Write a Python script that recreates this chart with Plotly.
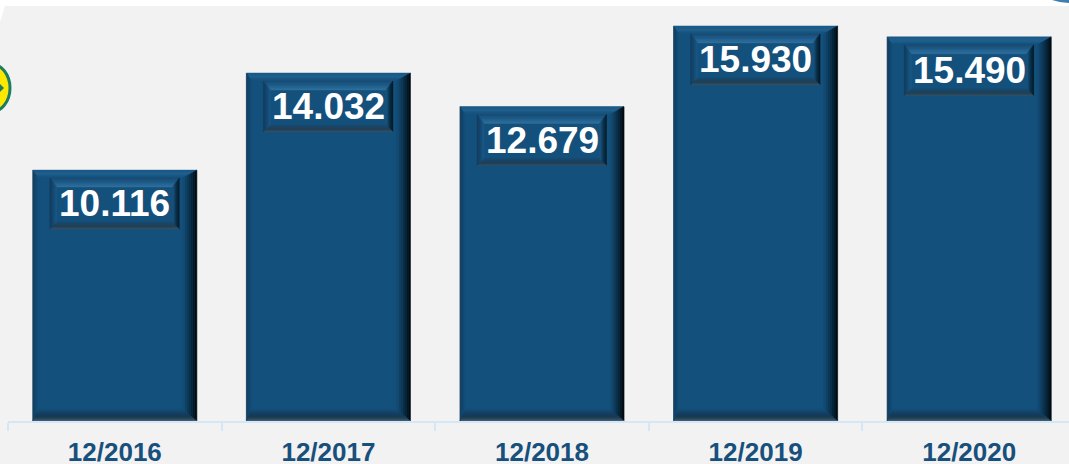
import plotly.graph_objects as go

categories = ["12/2016", "12/2017", "12/2018", "12/2019", "12/2020"]
values = [10116, 14032, 12679, 15930, 15490]
value_labels = ["10.116", "14.032", "12.679", "15.930", "15.490"]

W, H = 1069, 464
ML, MB = 8, 42.5
PLOT_H = H - MB
STEP = 213.6
YMAX = PLOT_H / 0.0248
BAR_HALF = 82
BAR_COLOR = "#14507c"
TEXT_COLOR = "#17507c"


def hex2rgb(c):
    return tuple(int(c[i:i + 2], 16) for i in (1, 3, 5))


def ramp(stops, f):
    # stops: list of (pos, colour)
    for (p0, c0), (p1, c1) in zip(stops, stops[1:]):
        if f <= p1:
            t = (f - p0) / (p1 - p0) if p1 > p0 else 0
            a, b = hex2rgb(c0), hex2rgb(c1)
            return "rgb(%d,%d,%d)" % tuple(round(a[i] + (b[i] - a[i]) * t) for i in range(3))
    return stops[-1][1]


def bevel(cat, x0, x1, y0, y1, insets, edge_stops, n=7):
    """Bevelled frame inside a pixel box anchored at category cat, value 0."""
    out = []
    il, it, ir, ib = insets
    for k in range(n):
        a, b = k / n, (k + 1) / n
        def rect(f):
            return x0 + il * f, x1 - ir * f, y1 - it * f, y0 + ib * f
        la, ra, ta, ba = rect(a)
        lb, rb, tb, bb = rect(b)
        quads = {
            "top": [(la, ta), (ra, ta), (rb, tb), (lb, tb)],
            "right": [(ra, ta), (ra, ba), (rb, bb), (rb, tb)],
            "bottom": [(ra, ba), (la, ba), (lb, bb), (rb, bb)],
            "left": [(la, ba), (la, ta), (lb, tb), (lb, bb)],
        }
        for edge, pts in quads.items():
            col = ramp(edge_stops[edge], (a + b) / 2)
            path = "M" + " L".join(f"{px:.2f},{py:.2f}" for px, py in pts) + " Z"
            out.append(dict(type="path", xref="x", yref="y", xsizemode="pixel", ysizemode="pixel",
                            xanchor=cat, yanchor=0, path=path, fillcolor=col,
                            line=dict(width=0.4, color=col)))
    return out


BAR_EDGES = {
    "top": [(0, "#1b5a88"), (0.5, "#23628f"), (1, "#14507c")],
    "right": [(0, "#020608"), (0.45, "#0a2c44"), (1, "#14507c")],
    "bottom": [(0, "#4a6a82"), (0.2, "#2c4558"), (0.45, "#143650"), (1, "#14507c")],
    "left": [(0, "#143e5e"), (1, "#14507c")],
}
BOX_EDGES = {
    "top": [(0, "#1a4a70"), (0.5, "#1f5e8c"), (1, "#34729f")],
    "right": [(0, "#04141f"), (0.5, "#0b3048"), (1, "#1a5a88")],
    "bottom": [(0, "#3a5468"), (0.4, "#223f55"), (1, "#174a70")],
    "left": [(0, "#123a5a"), (1, "#1a5a88")],
}

shapes = []


def deco(path, fill, line=None, width=0):
    shapes.append(dict(type="path", xref="paper", yref="paper", xsizemode="pixel", ysizemode="pixel",
                       xanchor=0, yanchor=1, path=path, fillcolor=fill, layer="below",
                       line=dict(width=width, color=line or fill)))


# white margin along the top with the slanted corner (pixels from plot's top-left)
deco(f"M-10,1 L{W},1 L{W},-6 L-3,-6 L-8,-22 L-10,-22 Z", "#ffffff")
# fragment of the blue arc in the top right corner
deco(f"M{1052-ML},0 L{W-ML},0 L{W-ML},-3 C{1062-ML},-2.5 {1057-ML},-1.5 {1052-ML},0 Z", "#3f7fae")

for cat, v in zip(categories, values):
    h = v * PLOT_H / YMAX
    shapes += bevel(cat, -BAR_HALF, BAR_HALF, 0, h, (5, 8, 14, 12), BAR_EDGES)
    shapes += bevel(cat, -65, 64.5, h - 59, h - 8, (7, 9, 7, 7), BOX_EDGES)

fig = go.Figure(go.Bar(
    x=categories, y=values,
    marker=dict(color=BAR_COLOR, line=dict(color="#8f9ba3", width=1)),
    width=164 / STEP, hoverinfo="skip",
))

# small badge clipped by the left edge of the picture
shapes.append(dict(type="circle", xref="paper", yref="paper", xsizemode="pixel", ysizemode="pixel",
                   xanchor=0, yanchor=1, x0=-36, x1=2, y0=-64, y1=-112,
                   fillcolor="#ffe800", line=dict(color="#1c7d62", width=3)))
deco("M-8,-84 L-4,-88 L-8,-92 Z", "#1c7d62")
for s in shapes[-2:]:
    s["layer"] = "above"

annotations = [
    dict(x=c, y=v, yshift=-33.5, text=t, showarrow=False, yanchor="middle",
         font=dict(family="Liberation Sans", size=37, color="#ffffff", weight="bold"))
    for c, v, t in zip(categories, values, value_labels)
]

fig.update_layout(
    width=W, height=H, autosize=False,
    margin=dict(l=ML, r=0, t=0, b=MB, pad=0),
    paper_bgcolor="#f2f2f2", plot_bgcolor="rgba(0,0,0,0)",
    showlegend=False, shapes=shapes, annotations=annotations,
    xaxis=dict(type="category", categoryorder="array", categoryarray=categories,
               range=[-0.5, (W - ML) / STEP - 0.5], tickson="boundaries", automargin=False,
               ticks="outside", ticklen=8, tickwidth=2, tickcolor="#d3e7f7",
               showline=True, linecolor="#d3e7f7", linewidth=2, showgrid=False, zeroline=False,
               ticklabelstandoff=7,
               tickfont=dict(family="Liberation Sans", size=26, color=TEXT_COLOR, weight="bold")),
    yaxis=dict(range=[0, YMAX], visible=False, fixedrange=True, automargin=False),
)

fig.write_html("out.html", config={"displayModeBar": False},
               post_script="document.body.style.margin='0';document.documentElement.style.overflow='hidden';")
